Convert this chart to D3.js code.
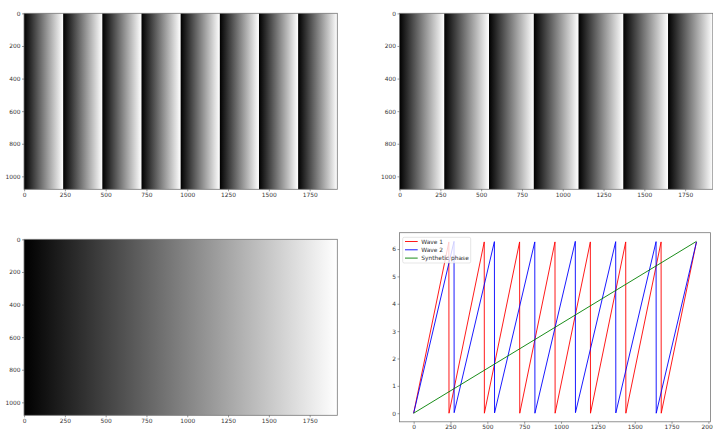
<!DOCTYPE html>
<html>
<head>
<meta charset="utf-8">
<script src="https://cdn.jsdelivr.net/npm/d3@7"></script>
<style>
  body { margin: 0; background: #fff; }
  svg { display: block; }
  .tick text { font-family: "DejaVu Sans", sans-serif; font-size: 5.9px; fill: #333; }
  .tick line { stroke: #555; stroke-width: 0.6; }
</style>
</head>
<body>
<svg id="fig" width="713" height="429"></svg>
<script>
// image size (pixels) and stripe edges
var imgW = 1920, imgH = 1080;
var wave1Edges = [0, 240, 480, 720, 960, 1200, 1440, 1680, 1920];
var wave2Edges = [0, 274.3, 548.6, 822.9, 1097.1, 1371.4, 1645.7, 1920];
var synthEdges = [0, 1920];

var imgXTicks = [0, 250, 500, 750, 1000, 1250, 1500, 1750];
var imgYTicks = [0, 200, 400, 600, 800, 1000];

// line plot series (sawtooth break points)
var wave1X = [0, 239, 240, 479, 480, 719, 720, 959, 960, 1199, 1200, 1439, 1440, 1679, 1680, 1919];
var wave1Y = [0, 6.26, 0, 6.26, 0, 6.26, 0, 6.26, 0, 6.26, 0, 6.26, 0, 6.26, 0, 6.26];
var wave2X = [0, 274, 275, 548, 549, 822, 823, 1097, 1098, 1371, 1372, 1645, 1646, 1919];
var wave2Y = [0, 6.28, 0.02, 6.27, 0.01, 6.26, 0, 6.28, 0.02, 6.27, 0.01, 6.27, 0, 6.26];
var synthX = [0, 1919];
var synthY = [0, 6.28];

var lineXTicks = [0, 250, 500, 750, 1000, 1250, 1500, 1750, 2000];
var lineYTicks = [0, 1, 2, 3, 4, 5, 6];
var seriesNames = ["Wave 1", "Wave 2", "Synthetic phase"];
var seriesColors = ["#ff0000", "#0000ff", "#008000"];

var svg = d3.select("#fig");
var defs = svg.append("defs");
var gradId = 0;

function frame(g, x0, y0, x1, y1) {
    g.append("rect")
        .attr("x", x0).attr("y", y0)
        .attr("width", x1 - x0).attr("height", y1 - y0)
        .attr("fill", "none")
        .attr("stroke", "#777")
        .attr("stroke-width", 0.8);
}

function axes(g, x, y, xt, yt, y1, x0) {
    g.append("g")
        .attr("transform", "translate(0," + y1 + ")")
        .call(d3.axisBottom(x).tickValues(xt).tickSize(2).tickPadding(1.5).tickFormat(d3.format("d")))
        .call(a => a.select(".domain").remove());
    g.append("g")
        .attr("transform", "translate(" + x0 + ",0)")
        .call(d3.axisLeft(y).tickValues(yt).tickSize(2).tickPadding(1.5).tickFormat(d3.format("d")))
        .call(a => a.select(".domain").remove());
}

//Draw a phase image: each stripe goes black -> white
function drawImage(edges, x0, x1, y0, y1) {
    var x = d3.scaleLinear().domain([-0.5, imgW - 0.5]).range([x0, x1]);
    var y = d3.scaleLinear().domain([-0.5, imgH - 0.5]).range([y0, y1]);
    var g = svg.append("g");

    for (var i = 0; i < edges.length - 1; i++) {
        var id = "g" + (gradId++);
        var a = x(edges[i] - 0.5), b = x(edges[i + 1] - 0.5);
        var grad = defs.append("linearGradient")
            .attr("id", id)
            .attr("gradientUnits", "userSpaceOnUse")
            .attr("x1", a).attr("x2", b).attr("y1", 0).attr("y2", 0);
        grad.append("stop").attr("offset", 0).attr("stop-color", "#000");
        grad.append("stop").attr("offset", 1).attr("stop-color", "#fff");
        g.append("rect")
            .attr("x", Math.max(a, x0)).attr("y", y0)
            .attr("width", Math.min(b, x1) - Math.max(a, x0))
            .attr("height", y1 - y0)
            .attr("fill", "url(#" + id + ")");
    }
    frame(g, x0, y0, x1, y1);
    axes(g, x, y, imgXTicks, imgYTicks, y1, x0);
}

drawImage(wave1Edges, 24, 337.3, 13.3, 189.3);
drawImage(wave2Edges, 399.5, 712.8, 13.3, 189.3);
drawImage(synthEdges, 24, 337.3, 239.3, 415.3);

// Line plot of the three phases
var lx0 = 399.5, lx1 = 710.6, ly0 = 232.7, ly1 = 421.8;
var lx = d3.scaleLinear().domain([-95.95, 2014.95]).range([lx0, lx1]);
var ly = d3.scaleLinear().domain([-0.314, 6.597]).range([ly1, ly0]);
var lg = svg.append("g");

var line = d3.line().x(d => lx(d[0])).y(d => ly(d[1]));
var series = [
    d3.zip(wave1X, wave1Y),
    d3.zip(wave2X, wave2Y),
    d3.zip(synthX, synthY)
];

lg.selectAll("path.series")
    .data(series)
    .enter()
    .append("path")
    .attr("class", "series")
    .attr("d", line)
    .attr("fill", "none")
    .attr("stroke", (d, i) => seriesColors[i])
    .attr("stroke-width", 0.9);

frame(lg, lx0, ly0, lx1, ly1);
axes(lg, lx, ly, lineXTicks, lineYTicks, ly1, lx0);

// legend
var leg = lg.append("g");
leg.append("rect")
    .attr("x", 402.7).attr("y", 237.3)
    .attr("width", 68).attr("height", 25.7)
    .attr("rx", 1.5)
    .attr("fill", "#fff").attr("fill-opacity", 0.8)
    .attr("stroke", "#ccc").attr("stroke-width", 0.5);

var items = leg.selectAll("g.item")
    .data(seriesNames)
    .enter()
    .append("g")
    .attr("class", "item")
    .attr("transform", (d, i) => "translate(0," + (241.5 + i * 8.3) + ")");

items.append("line")
    .attr("x1", 405).attr("x2", 417.7)
    .attr("stroke", (d, i) => seriesColors[i])
    .attr("stroke-width", 0.9);

items.append("text")
    .attr("x", 421.3)
    .attr("dy", "0.35em")
    .attr("font-family", "DejaVu Sans, sans-serif")
    .attr("font-size", "5.9px")
    .attr("fill", "#333")
    .text(d => d);
</script>
</body>
</html>
